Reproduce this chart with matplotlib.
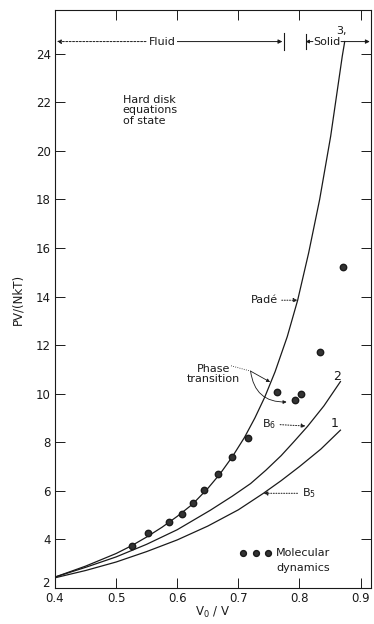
import matplotlib
matplotlib.use("Agg")
import matplotlib.pyplot as plt

# ---- data ----
pade_x = [0.40, 0.45, 0.50, 0.526, 0.55, 0.575, 0.60, 0.625, 0.65, 0.67, 0.69,
          0.71, 0.727, 0.743, 0.76, 0.78, 0.797, 0.815, 0.833, 0.851, 0.870, 0.874]
pade_y = [2.45, 2.90, 3.42, 3.75, 4.10, 4.50, 4.95, 5.45, 6.10, 6.70, 7.40,
          8.20, 9.00, 9.85, 10.9, 12.35, 13.85, 15.8, 18.0, 20.6, 23.9, 24.5]

b6_x = [0.40, 0.45, 0.50, 0.55, 0.60, 0.654, 0.69, 0.72, 0.745, 0.77, 0.79, 0.813, 0.84, 0.867]
b6_y = [2.45, 2.85, 3.28, 3.80, 4.40, 5.20, 5.78, 6.30, 6.85, 7.45, 8.00, 8.65, 9.50, 10.5]

b5_x = [0.40, 0.45, 0.50, 0.55, 0.60, 0.65, 0.70, 0.741, 0.77, 0.80, 0.835, 0.867]
b5_y = [2.42, 2.72, 3.07, 3.50, 3.98, 4.55, 5.22, 5.90, 6.42, 7.00, 7.72, 8.50]

md_x = [0.526, 0.552, 0.587, 0.607, 0.625, 0.644, 0.666, 0.690, 0.716,
        0.764, 0.792, 0.802, 0.834, 0.872]
md_y = [3.73, 4.26, 4.72, 5.05, 5.50, 6.03, 6.69, 7.39, 8.17,
        10.07, 9.74, 9.98, 11.70, 15.20]

x_ticks = [0.4, 0.5, 0.6, 0.7, 0.8, 0.9]
x_tick_labels = ["0.4", "0.5", "0.6", "0.7", "0.8", "0.9"]
y_ticks = [2, 4, 6, 8, 10, 12, 14, 16, 18, 20, 22, 24]
y_tick_labels = [str(v) for v in y_ticks]

plt.rcParams['font.family'] = ['DejaVu Sans']
ink = '#1a1a1a'

fig = plt.figure(figsize=(3.74, 6.24), dpi=100)
ax = fig.add_axes([55/374, 36/624, 316/374, 578/624])
ax.set_xlim(0.4, 0.917)
ax.set_ylim(2, 25.8)

lw = 0.9
ax.plot(pade_x, pade_y, color=ink, lw=lw)
ax.plot(b6_x, b6_y, color=ink, lw=lw)
ax.plot(b5_x, b5_y, color=ink, lw=lw)
ax.plot(md_x, md_y, 'o', color=ink, ms=4.6, mec=ink, mfc='#333333')

ax.set_xticks(x_ticks, x_tick_labels)
# bottom "2" label is drawn by hand, lifted slightly above the "0.4" label
ax.set_yticks(y_ticks, [""] + y_tick_labels[1:])
ax.text(-0.017, y_ticks[0] + 0.2, y_tick_labels[0], transform=ax.get_yaxis_transform(),
        ha='right', va='center', fontsize=8.5, color=ink)
ax.tick_params(direction='in', length=7, width=0.7, top=True, right=True,
               labelsize=8.5, colors=ink, pad=3)
for s in ax.spines.values():
    s.set_linewidth(0.8)
    s.set_color(ink)

ax.set_ylabel("PV/(NkT)", fontsize=8.5, color=ink, labelpad=8)
ax.set_xlabel("V$_0$ / V", fontsize=8.5, color=ink, labelpad=0)

fs = 8
# Fluid / Solid ranges
yline = 24.5
ax.annotate("", xy=(0.403, yline), xytext=(0.56, yline),
            arrowprops=dict(arrowstyle='-|>', lw=0.7, color=ink, ls=(0, (2, 1.5)),
                            mutation_scale=6, shrinkA=0, shrinkB=0))
ax.annotate("", xy=(0.772, yline), xytext=(0.59, yline),
            arrowprops=dict(arrowstyle='-|>', lw=0.7, color=ink,
                            mutation_scale=6, shrinkA=0, shrinkB=0))
ax.text(0.575, yline, "Fluid", fontsize=fs, ha='center', va='center', color=ink,
        bbox=dict(fc='white', ec='none', pad=1))
ax.plot([0.774, 0.774], [yline - 0.35, yline + 0.35], color=ink, lw=0.8)

ax.plot([0.81, 0.81], [yline - 0.3, yline + 0.3], color=ink, lw=0.8)
ax.annotate("", xy=(0.81, yline), xytext=(0.822, yline),
            arrowprops=dict(arrowstyle='-|>', lw=0.7, color=ink,
                            mutation_scale=5, shrinkA=0, shrinkB=0))
ax.text(0.845, yline, "Solid", fontsize=fs, ha='center', va='center', color=ink)
ax.annotate("", xy=(0.915, yline), xytext=(0.868, yline),
            arrowprops=dict(arrowstyle='-|>', lw=0.7, color=ink,
                            mutation_scale=6, shrinkA=0, shrinkB=0))
ax.text(0.869, 24.95, "3,", fontsize=fs, ha='center', va='center', color=ink)

ax.text(0.511, 22.3, "Hard disk\nequations\nof state", fontsize=fs, ha='left',
        va='top', color=ink, linespacing=1.05)

ax.annotate("Padé", xy=(0.797, 13.85), xytext=(0.742, 13.85), fontsize=fs,
            ha='center', va='center', color=ink,
            arrowprops=dict(arrowstyle='-|>', lw=0.7, color=ink, ls=':',
                            mutation_scale=6, shrinkA=1, shrinkB=0))

# Phase transition
ax.text(0.659, 10.8, "Phase\ntransition", fontsize=fs, ha='center', va='center',
        color=ink, linespacing=1.0)
ax.plot([0.688, 0.72], [11.15, 10.93], color=ink, lw=0.6, ls=':')
ax.annotate("", xy=(0.752, 10.48), xytext=(0.72, 10.93),
            arrowprops=dict(arrowstyle='-|>', lw=0.6, color=ink,
                            mutation_scale=5, shrinkA=0, shrinkB=0))
ax.annotate("", xy=(0.779, 9.66), xytext=(0.72, 10.93),
            arrowprops=dict(arrowstyle='-|>', lw=0.6, color=ink,
                            connectionstyle="arc3,rad=0.45",
                            mutation_scale=5, shrinkA=0, shrinkB=0))

ax.annotate("B$_6$", xy=(0.81, 8.67), xytext=(0.75, 8.75), fontsize=fs,
            ha='center', va='center', color=ink,
            arrowprops=dict(arrowstyle='-|>', lw=0.7, color=ink, ls=':',
                            mutation_scale=6, shrinkA=1, shrinkB=0))
ax.annotate("B$_5$", xy=(0.741, 5.9), xytext=(0.815, 5.9), fontsize=fs,
            ha='center', va='center', color=ink,
            arrowprops=dict(arrowstyle='-|>', lw=0.7, color=ink, ls=':',
                            mutation_scale=6, shrinkA=1, shrinkB=0))
ax.text(0.861, 10.72, "2", fontsize=fs + 1, ha='center', va='center', color=ink)
ax.text(0.857, 8.79, "1", fontsize=fs + 1, ha='center', va='center', color=ink)

# Legend
ax.plot([0.708, 0.729, 0.748], [3.44, 3.44, 3.44], 'o', color=ink, ms=4.2,
        mec=ink, mfc='#333333')
ax.text(0.762, 3.44, "Molecular", fontsize=fs, ha='left', va='center', color=ink)
ax.text(0.762, 2.82, "dynamics", fontsize=fs, ha='left', va='center', color=ink)

fig.savefig("out.png", dpi=100)
